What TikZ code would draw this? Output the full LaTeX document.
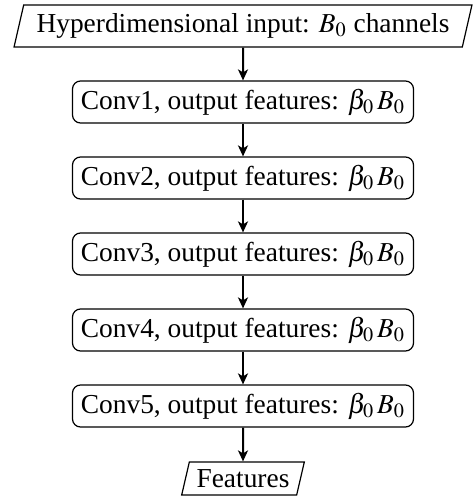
\documentclass[tikz,border=0pt]{standalone}
\usepackage{mathptmx}
\usepackage[no-math]{fontspec}
\setmainfont{Liberation Serif}
\usetikzlibrary{shapes.geometric,arrows.meta}
\newcommand{\bfeat}{$\beta_0\mkern2mu B_0$}
\begin{document}
\begin{tikzpicture}[x=0.5pt,y=-0.5pt,
  txt/.style={font=\fontsize{13.7}{16}\selectfont},
  conv/.style={txt, draw, rounded corners=4pt, minimum width=170.5pt, minimum height=21pt, inner sep=0pt, line width=0.6pt},
  io/.style={txt, draw, trapezium, trapezium left angle=70, trapezium right angle=110, trapezium stretches=true, inner sep=0pt, line width=0.6pt},
  flow/.style={-{Stealth[length=5.5pt,width=5pt,inset=1.5pt]}, line width=1pt}]
\useasboundingbox (0,0) rectangle (476,499);
\node[io, minimum width=229pt, minimum height=21pt] (in) at (243,26) {Hyperdimensional input: $B_0$ channels};
\node[conv] (c1) at (243,102) {Conv1, output features: \bfeat};
\node[conv] (c2) at (243,178) {Conv2, output features: \bfeat};
\node[conv] (c3) at (243,254) {Conv3, output features: \bfeat};
\node[conv] (c4) at (243,330) {Conv4, output features: \bfeat};
\node[conv] (c5) at (243,406) {Conv5, output features: \bfeat};
\node[io, minimum width=61.5pt, minimum height=16.5pt] (out) at (243,478.5) {Features};
\draw[flow] (in) -- (c1);
\draw[flow] (c1) -- (c2);
\draw[flow] (c2) -- (c3);
\draw[flow] (c3) -- (c4);
\draw[flow] (c4) -- (c5);
\draw[flow] (c5) -- (out);
\end{tikzpicture}
\end{document}
